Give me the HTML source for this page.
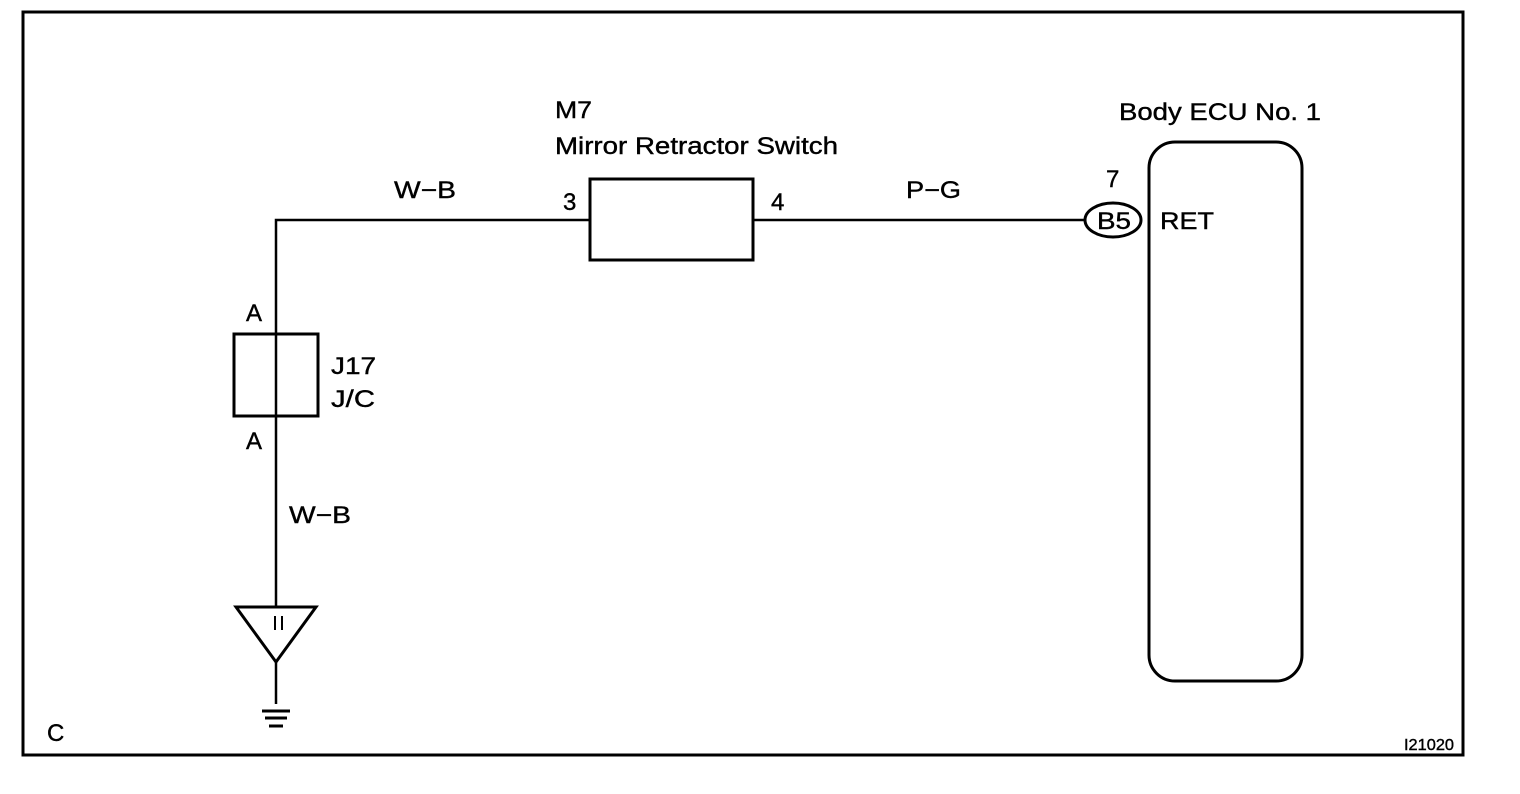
<!DOCTYPE html>
<html><head><meta charset="utf-8"><style>
html,body{margin:0;padding:0;background:#fff;}
svg{display:block;}
text{font-family:"Liberation Sans",Arial,sans-serif;fill:#000;stroke:#000;stroke-width:0.4;}
</style></head><body>
<svg width="1520" height="794" viewBox="0 0 1520 794" xmlns="http://www.w3.org/2000/svg">
<rect x="23" y="12" width="1440" height="743" fill="none" stroke="#000" stroke-width="3"/>
<g stroke="#000" fill="none" stroke-width="2.5">
<polyline points="276,607 276,220 590,220"/>
<line x1="753" y1="220" x2="1086" y2="220"/>
<rect x="590" y="179" width="163" height="81" stroke-width="3"/>
<rect x="234" y="334" width="84" height="82" stroke-width="3"/>
<polygon points="236,607 316,607 276,662" stroke-width="3"/>
<line x1="276" y1="662" x2="276" y2="704"/>
<line x1="262" y1="711" x2="290" y2="711" stroke-width="3"/>
<line x1="265" y1="718" x2="287" y2="718" stroke-width="3"/>
<line x1="269" y1="726" x2="283" y2="726" stroke-width="3"/>
<line x1="275" y1="616" x2="275" y2="630" stroke-width="2"/>
<line x1="282" y1="616" x2="282" y2="630" stroke-width="2"/>
<rect x="1149" y="142" width="153" height="539" rx="26" ry="26" stroke-width="3"/>
<ellipse cx="1113" cy="220" rx="28" ry="17" stroke-width="3"/>
</g>
<g font-size="24">
<text x="555" y="118" textLength="37" lengthAdjust="spacingAndGlyphs">M7</text>
<text x="555" y="154" textLength="283" lengthAdjust="spacingAndGlyphs">Mirror Retractor Switch</text>
<text x="394" y="198" textLength="62" lengthAdjust="spacingAndGlyphs">W−B</text>
<text x="563" y="210">3</text>
<text x="771" y="210">4</text>
<text x="906" y="198" textLength="55" lengthAdjust="spacingAndGlyphs">P−G</text>
<text x="1119" y="120" textLength="202" lengthAdjust="spacingAndGlyphs">Body ECU No. 1</text>
<text x="1106" y="187">7</text>
<text x="1097" y="229" textLength="34" lengthAdjust="spacingAndGlyphs">B5</text>
<text x="1160" y="229" textLength="54" lengthAdjust="spacingAndGlyphs">RET</text>
<text x="246" y="321">A</text>
<text x="246" y="449">A</text>
<text x="331" y="374" textLength="45" lengthAdjust="spacingAndGlyphs">J17</text>
<text x="331" y="407" textLength="44" lengthAdjust="spacingAndGlyphs">J/C</text>
<text x="289" y="523" textLength="62" lengthAdjust="spacingAndGlyphs">W−B</text>
<text x="47" y="741">C</text>
</g>
<text x="1404" y="750" font-size="16" textLength="50" lengthAdjust="spacingAndGlyphs">I21020</text>
</svg>
</body></html>
